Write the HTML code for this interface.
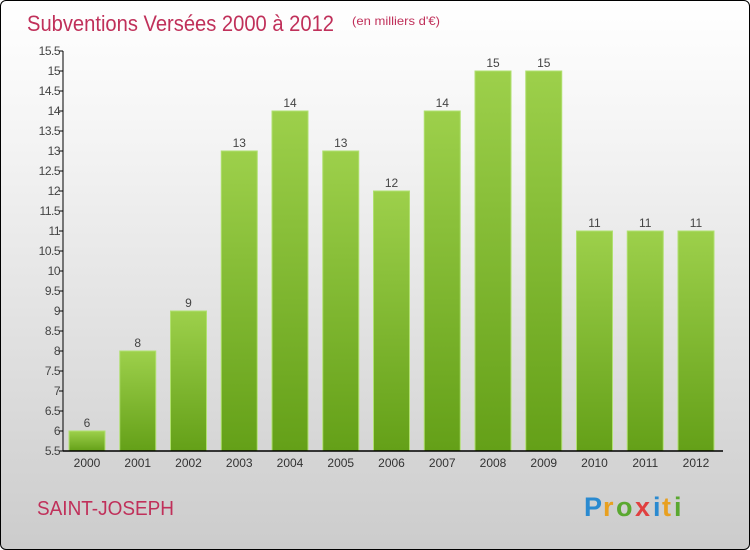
<!DOCTYPE html>
<html><head><meta charset="utf-8"><style>
html,body{margin:0;padding:0}
body{width:750px;height:550px;overflow:hidden;font-family:"Liberation Sans",sans-serif}
#wrap{position:absolute;left:0;top:0;width:748px;height:548px;border:1px solid #000;border-radius:6px;background:linear-gradient(#ffffff,#f4f4f4 25%,#dcdcdc 70%,#cccccc);overflow:hidden}
</style></head><body>
<div id="wrap">
<svg width="750" height="550" id="svg">
<defs><linearGradient id="g" x1="0" y1="0" x2="0" y2="1"><stop offset="0" stop-color="#9dd04b"/><stop offset="1" stop-color="#64a018"/></linearGradient></defs>
<text x="26" y="30" font-size="22" fill="#c0305a" textLength="307" lengthAdjust="spacingAndGlyphs">Subventions Versées 2000 à 2012</text>
<text x="351" y="24" font-size="12" fill="#c0305a" textLength="88" lengthAdjust="spacingAndGlyphs">(en milliers d'€)</text>
<text x="36" y="514" font-size="20" fill="#c0305a" textLength="137" lengthAdjust="spacingAndGlyphs">SAINT-JOSEPH</text>
<g font-size="27" font-weight="bold">
<text x="583" y="515" fill="#2a8ad0">P</text><text x="602" y="515" fill="#e8a020">r</text><text x="615" y="515" fill="#5aa830">o</text><text x="634" y="515" fill="#e04040">x</text><text x="652" y="515" fill="#2a8ad0">i</text><text x="661" y="515" fill="#e8a020">t</text><text x="673" y="515" fill="#5aa830">i</text>
</g>
<g id="plot"></g>
</svg></div>
<script>
const categories=["2000","2001","2002","2003","2004","2005","2006","2007","2008","2009","2010","2011","2012"];
const values=[6,8,9,13,14,13,12,14,15,15,11,11,11];
const yTicks=[5.5,6,6.5,7,7.5,8,8.5,9,9.5,10,10.5,11,11.5,12,12.5,13,13.5,14,14.5,15,15.5];
const NS="http://www.w3.org/2000/svg";
const plot=document.getElementById('plot');
const x0=62,x1=722,yMin=5.5,yMax=15.5,yb=450,yt=50;
const step=50.75, firstC=86;
function y(v){return yb-(v-yMin)/(yMax-yMin)*(yb-yt);}
function xc(i){return firstC+step*i;}
function mk(t,a){const e=document.createElementNS(NS,t);for(const k in a)e.setAttribute(k,a[k]);plot.appendChild(e);return e;}
values.forEach((v,i)=>{
 const r=mk('rect',{x:xc(i)-18,y:y(v),width:36,height:yb-y(v),fill:'url(#g)',stroke:'#b0e070','stroke-width':1});
 
 
 const t=mk('text',{x:xc(i),y:y(v)-4,'text-anchor':'middle','font-size':12,fill:'#444'});
 t.textContent=v;
 
 
 const c=mk('text',{x:xc(i),y:466,'text-anchor':'middle','font-size':12,fill:'#333'});
 c.textContent=categories[i];
 
 
});
yTicks.forEach(v=>{
 mk('line',{x1:x0-4,x2:x0,y1:y(v),y2:y(v),stroke:'#000'});
 const t=mk('text',{x:x0-3,y:y(v)+4,'text-anchor':'end','font-size':12,fill:'#444','letter-spacing':'-0.5'});
 t.textContent=v;
 
 
});
const ya=mk('line',{x1:x0,x2:x0,y1:yt,y2:yb,stroke:'#000'});


const xa=mk('line',{x1:x0,x2:x1,y1:yb,y2:yb,stroke:'#000','stroke-width':1.5});


</script>
</body></html>
